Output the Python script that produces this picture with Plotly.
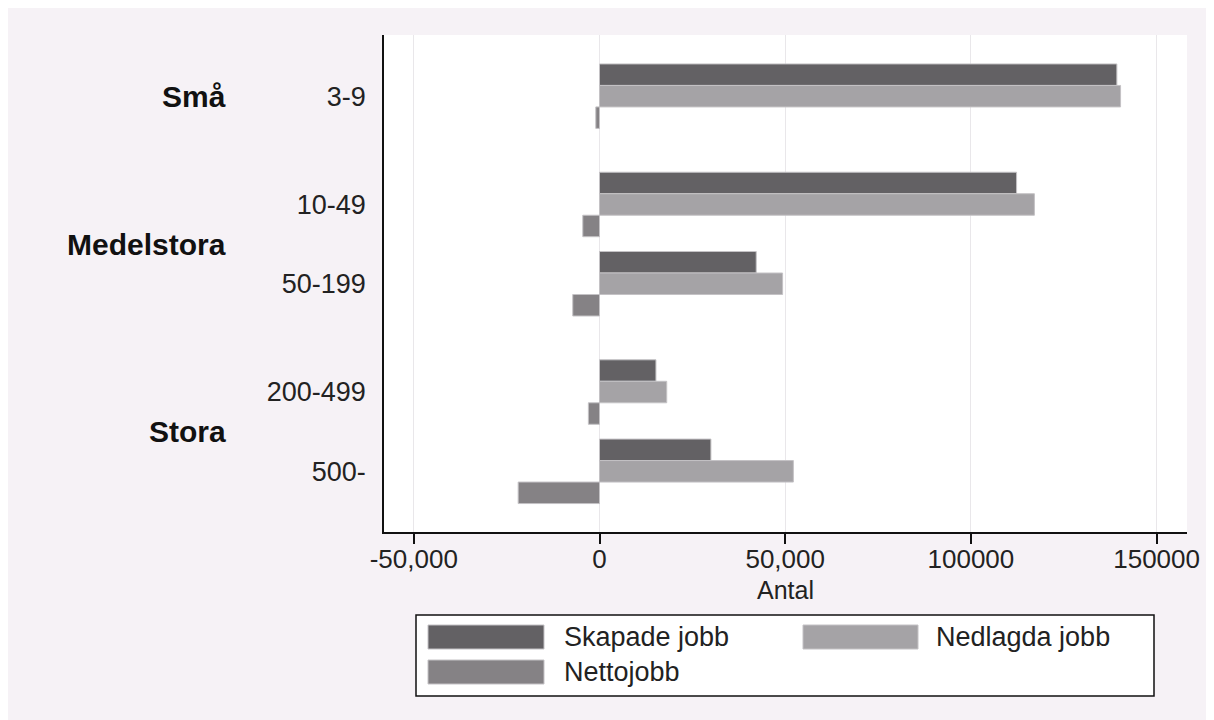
import plotly.graph_objects as go

# ---- data ----
size_classes = ["3-9", "10-49", "50-199", "200-499", "500-"]
size_groups = ["Små", "Medelstora", "Medelstora", "Stora", "Stora"]
skapade = [139300, 112300, 42200, 15200, 30000]
nedlagda = [140300, 117100, 49300, 18100, 52200]
netto = [-1000, -4500, -7200, -3000, -21900]
series_names = ["Skapade jobb", "Nedlagda jobb", "Nettojobb"]
x_tickvals = [-50000, 0, 50000, 100000, 150000]
x_ticktext = ["-50,000", "0", "50,000", "100000", "150000"]
x_title = "Antal"

# ---- styling ----
C_SKAP = "#636164"
C_NEDL = "#a5a3a6"
C_NETT = "#858285"
OUTLINE = "#c4c2c5"
BG = "#f6f2f6"
FONT = "Liberation Sans, Arial, sans-serif"
OFF = 8  # page body margin
W, H = 1206, 712
# plot area in page px
L, R, T, B = 384, 1187, 35, 532

# category positions (gap larger between groups)
GROUP_GAP = 1.366
pos = []
p = 0.0
for i, g in enumerate(size_groups):
    if i > 0:
        p += 1.0 if g == size_groups[i - 1] else GROUP_GAP
    pos.append(p)
unit_px = 79.3
y_top = pos[0] - (96.2 - T) / unit_px
y_bot = pos[-1] + (B - 471.3) / unit_px
bw = 21.5 / unit_px

fig = go.Figure()
for vals, col, off, name in [
    (skapade, C_SKAP, -1.5 * bw, series_names[0]),
    (nedlagda, C_NEDL, -0.5 * bw, series_names[1]),
    (netto, C_NETT, 0.5 * bw, series_names[2]),
]:
    fig.add_trace(go.Bar(
        x=vals, y=pos, orientation="h", name=name,
        width=bw, offset=off,
        marker=dict(color=col, line=dict(color=OUTLINE, width=1)),
        showlegend=False,
    ))

def px_x(px):
    return (px - L) / (R - L)

def px_y(py):
    return (B - py) / (B - T)

shapes = []
# legend box
shapes.append(dict(type="rect", xref="paper", yref="paper",
                   x0=px_x(416), x1=px_x(1154), y0=px_y(696), y1=px_y(615),
                   fillcolor="white", line=dict(color="#111", width=1.5)))
legend_items = [
    (C_SKAP, 428, 544, 625, 649, 562, 637, series_names[0]),
    (C_NEDL, 803, 918, 625, 649, 934, 637, series_names[1]),
    (C_NETT, 428, 544, 660, 684, 562, 672, series_names[2]),
]
annotations = []
for col, sx0, sx1, sy0, sy1, tx, ty, txt in legend_items:
    shapes.append(dict(type="rect", xref="paper", yref="paper",
                       x0=px_x(sx0), x1=px_x(sx1), y0=px_y(sy1), y1=px_y(sy0),
                       fillcolor=col, line=dict(color=OUTLINE, width=1)))
    annotations.append(dict(xref="paper", yref="paper", x=px_x(tx), y=px_y(ty),
                            text=txt, showarrow=False, xanchor="left", yanchor="middle",
                            font=dict(family=FONT, size=27, color="#222")))

# x-axis title
annotations.append(dict(xref="paper", yref="paper", x=px_x(785), y=px_y(590),
                        text=x_title, showarrow=False, xanchor="center", yanchor="middle",
                        font=dict(family=FONT, size=25, color="#222")))

# group labels
seen = []
for g in size_groups:
    if g not in seen:
        seen.append(g)
for g in seen:
    ps = [pos[i] for i, gg in enumerate(size_groups) if gg == g]
    annotations.append(dict(xref="paper", yref="y", x=px_x(228), y=sum(ps) / len(ps),
                            text="<b>" + g + "</b>", showarrow=False,
                            xanchor="right", yanchor="middle",
                            font=dict(family=FONT, size=30, color="#111")))

fig.update_layout(
    width=W, height=H,
    margin=dict(l=L - OFF, r=(W + OFF) - R, t=T - OFF, b=(H + OFF) - B, pad=0),
    paper_bgcolor=BG, plot_bgcolor="white",
    barmode="overlay",
    font=dict(family=FONT, size=27, color="#222"),
    shapes=shapes, annotations=annotations,
    xaxis=dict(
        range=[(L - 599.5) / 185.7 * 50000, (R - 599.5) / 185.7 * 50000],
        tickvals=x_tickvals, ticktext=x_ticktext,
        ticks="outside", ticklen=10, tickwidth=1.5, tickcolor="#111",
        ticklabelstandoff=-7,
        showline=True, linecolor="#111", linewidth=1.5,
        showgrid=True, gridcolor="#e9e7ea", gridwidth=1,
        zeroline=False,
        tickfont=dict(family=FONT, size=26, color="#222"),
    ),
    yaxis=dict(
        range=[y_bot, y_top],
        tickvals=pos, ticktext=size_classes,
        ticks="", ticklabelstandoff=11,
        showline=True, linecolor="#111", linewidth=1.5,
        showgrid=False, zeroline=False,
        tickfont=dict(family=FONT, size=27, color="#222"),
    ),
)

fig.write_html("out.html")
